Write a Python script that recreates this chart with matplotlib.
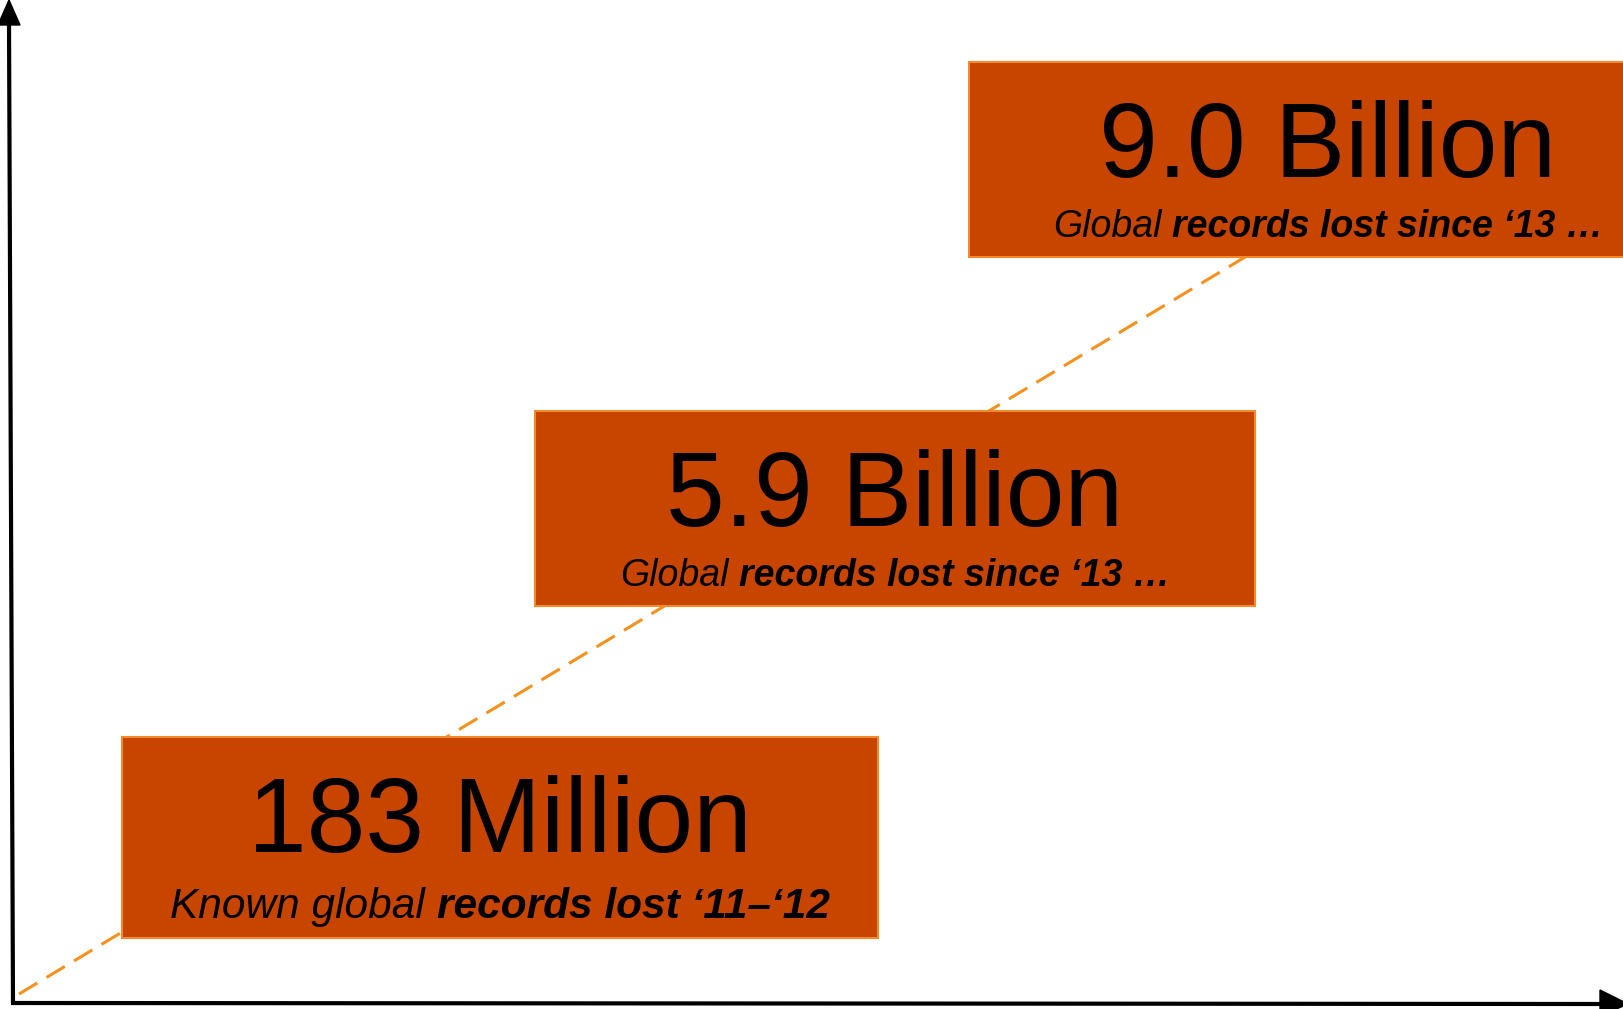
import matplotlib
matplotlib.use("Agg")
import matplotlib.pyplot as plt
from matplotlib.patches import Rectangle, Polygon

plt.rcParams['font.family'] = ['Liberation Sans', 'DejaVu Sans']

# headline figures and their captions (regular italic part, bold italic part)
headlines = ["183 Million", "5.9 Billion", "9.0 Billion"]
caption_lead = ["Known global", "Global", "Global"]
caption_bold = ["records lost \u201811\u2013\u201812", "records lost since \u201813 \u2026", "records lost since \u201813 \u2026"]

# box layout in pixel units: left, top, right, bottom
box_left = [122, 535, 969]
box_top = [737, 411, 62]
box_right = [878, 1255, 1687]
box_bottom = [938, 606, 257]
caption_size = [30.5, 27, 27]

FILL = "#C84500"
EDGE = "#F58A2A"
DASH = "#F7911E"

W, H = 1624, 1009
fig = plt.figure(figsize=(W / 100, H / 100), dpi=100)
ax = fig.add_axes([0, 0, 1, 1])
ax.set_xlim(0, W)
ax.set_ylim(H, 0)
ax.axis("off")

# axes drawn as arrows
ax.plot([13, 9], [1003, 22], color="black", lw=3, solid_capstyle="butt", zorder=5)
ax.add_patch(Polygon([[-2, 25], [20, 25], [9, 0]], closed=True, color="black", zorder=5))
ax.plot([11, 1602], [1003, 1004], color="black", lw=3, solid_capstyle="butt", zorder=5)
ax.add_patch(Polygon([[1600, 990], [1600, 1016], [1628, 1004]], closed=True, color="black", zorder=5))

# dashed trend line running behind the boxes
ax.plot([19, 1300], [994, 224], color=DASH, lw=2.2, linestyle=(0, (7, 3.5)), zorder=1)

big_size = 76

fig.canvas.draw()
renderer = fig.canvas.get_renderer()

for i in range(len(headlines)):
    l, t, r, b = box_left[i], box_top[i], box_right[i], box_bottom[i]
    ax.add_patch(Rectangle((l, t), r - l, b - t, facecolor=FILL, edgecolor=EDGE,
                           lw=1.5, zorder=2))
    cx = (l + r) / 2
    ax.text(cx, t + 115, headlines[i], fontsize=big_size, ha="center", va="baseline",
            color="black", zorder=3)

    # caption: regular italic followed by bold italic, centred as one line
    size = caption_size[i]
    y = b - 20
    t1 = ax.text(0, y, caption_lead[i], fontsize=size, style="italic",
                 ha="left", va="baseline", zorder=3)
    t2 = ax.text(0, y, caption_bold[i], fontsize=size, style="italic",
                 weight="bold", ha="left", va="baseline", zorder=3)
    w1 = t1.get_window_extent(renderer).width
    w2 = t2.get_window_extent(renderer).width
    gap = size * 1.3889 * 0.278
    total = w1 + gap + w2
    x0 = cx - total / 2
    t1.set_x(x0)
    t2.set_x(x0 + w1 + gap)

fig.savefig("out.png", dpi=100)
